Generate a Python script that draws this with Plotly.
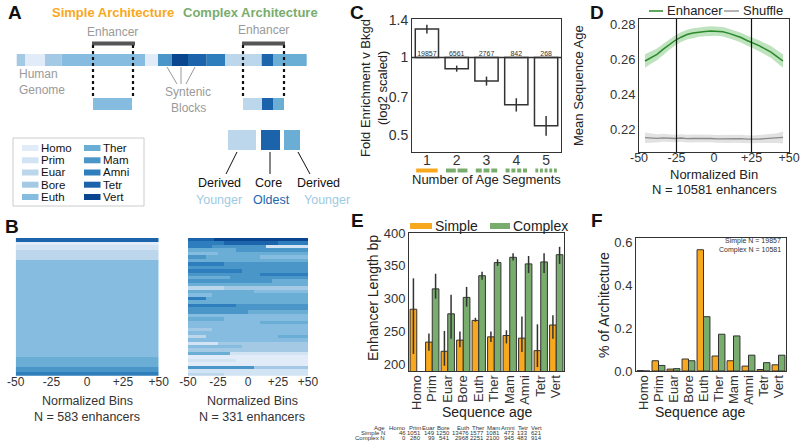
import numpy as np
import plotly.graph_objects as go

W, H = 800, 448
FONT = "Liberation Sans, Arial, sans-serif"
INK = "#222222"
GRAY_TXT = "#9a9a9a"
ORANGE = "#f8a81c"
GREEN = "#78ad6d"

# ---- sequence ages and their colours ----
ages = ["Homo", "Prim", "Euar", "Bore", "Euth", "Ther", "Mam", "Amni", "Tetr", "Vert"]
age_colors = ["#e1ecf8", "#d2e3f3", "#bcd6ec", "#a4c9e5", "#86bce0",
              "#6aaed6", "#4b96c9", "#2e7dbc", "#1b63aa", "#0a4690"]

# ---- panel A schematic (human genome strip) ----
genome_start = 16.7
genome_ages = [3, 0, 3, 4, 0, 6, 9, 8, 7, 2, 8, 5]
genome_widths = [8.3, 20, 16.7, 83.3, 13, 13.7, 16.3, 18.7, 18.3, 36.7, 11.3, 33.7]
complex_parts_ages = [2, 8, 5]
complex_parts_widths = [19, 11, 11]

# ---- panel B heatmaps ----
simple_band_ages = [8, 0, 1, 2, 4, 5, 6, 7]
simple_band_rows = [17, 11, 24, 40, 411, 42, 21, 17]
complex_rows = [
    [[8, 22], [9, 78]],
    [[7, 30], [8, 45], [7, 25]],
    [[7, 20], [6, 45], [1, 35]],
    [[5, 40], [6, 60]],
    [[4, 25], [5, 75]],
    [[6, 15], [5, 45], [4, 40]],
    [[5, 100]],
    [[7, 30], [6, 70]],
    [[6, 100]],
    [[7, 45], [6, 55]],
    [[6, 60], [7, 40]],
    [[5, 35], [6, 65]],
    [[6, 70], [5, 30]],
    [[5, 100]],
    [[2, 30], [3, 70]],
    [[5, 55], [4, 45]],
    [[4, 20], [5, 80]],
    [[7, 15], [5, 85]],
    [[5, 100]],
    [[7, 40], [6, 60]],
    [[6, 100]],
    [[6, 50], [5, 50]],
    [[4, 100]],
    [[5, 30], [4, 70]],
    [[4, 60], [5, 40]],
    [[4, 100]],
    [[3, 20], [4, 80]],
    [[4, 100]],
    [[2, 15], [4, 60], [5, 25]],
    [[4, 100]],
    [[1, 25], [3, 75]],
    [[4, 45], [3, 55]],
    [[3, 100]],
    [[5, 35], [1, 65]],
    [[0, 100]],
    [[1, 40], [0, 60]],
    [[0, 100]],
    [[6, 55], [3, 45]],
    [[1, 100]],
    [[2, 30], [1, 70]],
]

# ---- panel C ----
seg_counts = [1, 2, 3, 4, 5]
fold_enrichment = [1.29, 0.905, 0.81, 0.655, 0.543]
fe_err_hi = [0.05, 0.025, 0.033, 0.04, 0.05]
fe_err_lo = [0.05, 0.024, 0.032, 0.038, 0.046]
n_enh = [19857, 6561, 2767, 842, 268]

# ---- panel D ----
bins_d = [-46, -42, -38, -34, -30, -26, -22, -18, -14, -10, -6, -2,
          2, 6, 10, 14, 18, 22, 26, 30, 34, 38, 42, 46]
enhancer_age = [0.2590, 0.2609, 0.2628, 0.2656, 0.2683, 0.2707, 0.2726, 0.2741,
                0.2750, 0.2756, 0.2759, 0.2761, 0.2761, 0.2757, 0.2748, 0.2737,
                0.2724, 0.2707, 0.2693, 0.2678, 0.2659, 0.2641, 0.2615, 0.2590]
enhancer_ci = [0.0038, 0.0035, 0.0033, 0.0031, 0.0030, 0.0029, 0.0028, 0.0028,
               0.0027, 0.0027, 0.0027, 0.0027, 0.0027, 0.0027, 0.0027, 0.0028,
               0.0028, 0.0029, 0.0030, 0.0031, 0.0032, 0.0034, 0.0036, 0.0038]
shuffle_age = [0.2152, 0.2150, 0.2148, 0.2151, 0.2149, 0.2147, 0.2150, 0.2146,
               0.2148, 0.2149, 0.2146, 0.2147, 0.2145, 0.2146, 0.2143, 0.2145,
               0.2146, 0.2144, 0.2142, 0.2144, 0.2146, 0.2147, 0.2149, 0.2153]
shuffle_ci = [0.0030, 0.0026, 0.0024, 0.0023, 0.0022, 0.0022, 0.0022, 0.0022,
              0.0022, 0.0022, 0.0022, 0.0022, 0.0022, 0.0022, 0.0022, 0.0022,
              0.0022, 0.0022, 0.0022, 0.0023, 0.0024, 0.0025, 0.0028, 0.0034]

# ---- panel E ----
simple_len = [284, 234, 220, 237, 267, 242, 244, 240, 221, 260]
simple_hi = [331, 247, 251, 250, 271, 250, 252, 273, 261, 275]
simple_lo = [216, 221, 198, 226, 265, 234, 232, 219, 196, 239]
complex_len = [None, 315, 277, 302, 335, 355, 363, 353, 356, 367]
complex_hi = [None, 338, 306, 318, 341, 360, 369, 365, 369, 379]
complex_lo = [None, 300, 239, 288, 329, 350, 358, 339, 339, 353]
simple_n = [46, 1051, 149, 1250, 13476, 1577, 1081, 473, 133, 621]
complex_n = [0, 280, 99, 541, 2968, 2251, 2100, 945, 483, 914]

# ---- panel F ----
simple_frac = [0.002, 0.048, 0.009, 0.056, 0.567, 0.070, 0.048, 0.023, 0.007, 0.029]
complex_frac = [0.0, 0.026, 0.011, 0.048, 0.254, 0.172, 0.164, 0.074, 0.039, 0.074]


def px(x):
    return x / W


def py(y):
    return 1 - y / H


def xd(a, b):
    return [a / W, b / W]


def yd(top, bottom):
    return [1 - bottom / H, 1 - top / H]


shapes = []
annos = []


def rect(x0, y0, x1, y1, color, line_color=None, lw=0):
    shapes.append(dict(type="rect", xref="paper", yref="paper",
                       x0=px(x0), x1=px(x1), y0=py(y1), y1=py(y0),
                       fillcolor=color, line=dict(width=lw, color=line_color or color)))


def seg(x0, y0, x1, y1, color, lw=1, dash="solid"):
    shapes.append(dict(type="line", xref="paper", yref="paper",
                       x0=px(x0), x1=px(x1), y0=py(y0), y1=py(y1),
                       line=dict(color=color, width=lw, dash=dash)))


def text(x, y, s, size=13, color=INK, anchor="center", bold=False, angle=0, pad=1):
    annos.append(dict(xref="paper", yref="paper", x=px(x), y=py(y), text=s,
                      showarrow=False, xanchor=anchor, yanchor="middle",
                      textangle=angle, borderpad=pad,
                      font=dict(family=FONT, size=size, color=color,
                                weight="bold" if bold else "normal")))


# ===================== panel A =====================
text(15, 13, "A", 19, "#111", bold=True)
text(113, 12, "Simple Architecture", 13, ORANGE, bold=True)
text(251, 12, "Complex Architecture", 13, GREEN, bold=True)
text(112, 32, "Enhancer", 12, GRAY_TXT)
text(263, 30, "Enhancer", 12, GRAY_TXT)
rect(92, 41.5, 135, 45.5, "#555555")
rect(242, 41.5, 285, 45.5, "#555555")

x = genome_start
for a, w in zip(genome_ages, genome_widths):
    rect(x, 54, x + w, 66, age_colors[a])
    x += w

for xx in [93, 133, 243, 284]:
    seg(xx, 45, xx, 99, "#111", 2.2, "dot")

rect(93, 98, 132, 110, age_colors[4])
x = 243
for a, w in zip(complex_parts_ages, complex_parts_widths):
    rect(x, 98, x + w, 110, age_colors[a])
    x += w

text(17, 74, "Human", 12, GRAY_TXT, "left")
text(17, 90, "Genome", 12, GRAY_TXT, "left")
seg(167, 67, 177, 84, "#999", 1)
seg(181, 67, 181, 84, "#999", 1)
seg(195, 67, 186, 84, "#999", 1)
text(188, 92, "Syntenic", 12, GRAY_TXT)
text(188, 108, "Blocks", 12, GRAY_TXT)

# legend box of ages
rect(13, 138, 144, 206, "rgba(0,0,0,0)", "#cccccc", 1)
row_y = [148, 160.3, 172.5, 184.7, 197]
for i, name in enumerate(ages):
    col, r = divmod(i, 5)
    sx = 22 if col == 0 else 84
    rect(sx, row_y[r] - 3, sx + 16.5, row_y[r] + 3, age_colors[i])
    text(sx + 18, row_y[r], name, 11.5, "#111", "left", pad=0)

# core / derived squares
sq_x = [(228, 256), (261, 280), (284, 300)]
for (a0, a1), a in zip(sq_x, complex_parts_ages):
    rect(a0, 130, a1, 150, age_colors[a])
seg(237, 152, 226, 174, "#111", 1)
seg(270, 152, 270, 174, "#111", 1)
seg(298, 152, 310, 174, "#111", 1)
text(219, 183, "Derived", 12.5, "#111")
text(268, 183, "Core", 12.5, "#111")
text(318, 183, "Derived", 12.5, "#111")
text(219, 200, "Younger", 12.5, "#9ecae1")
text(271, 200, "Oldest", 12.5, "#2166ac")
text(327, 200, "Younger", 12.5, "#9ecae1")

# ===================== panel B =====================
text(12, 226, "B", 19, "#111", bold=True)
scale = []
for i, c in enumerate(age_colors):
    scale.append([i / 10, c])
    scale.append([(i + 1) / 10, c])

bin_x = np.arange(-49.5, 50, 1.0)
simple_col = np.repeat(simple_band_ages, simple_band_rows)
z_simple = np.tile(simple_col[:, None], (1, len(bin_x)))
z_complex = []
for row in complex_rows:
    vals = []
    for a, n in row:
        vals += [a] * n
    z_complex.append(vals)

fig = go.Figure()
fig.add_trace(go.Heatmap(x=bin_x, y=np.arange(len(simple_col)), z=z_simple,
                         colorscale=scale, zmin=-0.5, zmax=9.5, showscale=False,
                         hoverinfo="skip", xaxis="x", yaxis="y"))
fig.add_trace(go.Heatmap(x=bin_x, y=np.arange(len(complex_rows)), z=z_complex,
                         colorscale=scale, zmin=-0.5, zmax=9.5, showscale=False,
                         hoverinfo="skip", xaxis="x2", yaxis="y2"))
text(87, 401, "Normalized Bins", 12.5, "#333")
text(87, 417, "N = 583 enhancers", 12.5, "#333")
text(252, 401, "Normalized Bins", 12.5, "#333")
text(252, 417, "N = 331 enhancers", 12.5, "#333")

# ===================== panel C =====================
text(357, 12, "C", 19, "#111", bold=True)
fig.add_trace(go.Bar(x=seg_counts, y=[v - 1 for v in fold_enrichment], base=1,
                     width=0.78, marker=dict(color="white", line=dict(color="#333", width=1.5)),
                     error_y=dict(type="data", array=fe_err_hi, arrayminus=fe_err_lo,
                                  color="#333", thickness=1.5, width=0),
                     xaxis="x3", yaxis="y3"))
fig.add_trace(go.Scatter(x=[0.5, 5.5], y=[1, 1], mode="lines",
                         line=dict(color="#333", width=1.3),
                         hoverinfo="skip", xaxis="x3", yaxis="y3"))
fig.add_trace(go.Scatter(x=seg_counts, y=[1] * 5, mode="text",
                         text=[str(n) for n in n_enh], textposition="top center",
                         textfont=dict(family=FONT, size=7, color="#333"),
                         hoverinfo="skip", xaxis="x3", yaxis="y3"))
for c, n in zip(seg_counts, seg_counts):
    total, gap = 0.72, 0.06
    w = (total - gap * (n - 1)) / n
    for k in range(n):
        x0 = c - total / 2 + k * (w + gap)
        shapes.append(dict(type="rect", xref="x3", yref="paper",
                           x0=x0, x1=x0 + w, y0=py(172.5), y1=py(168.5),
                           fillcolor=ORANGE if n == 1 else GREEN, line=dict(width=0)))
text(486, 179, "Number of Age Segments", 13, "#222")
text(366, 88, "Fold Enrichment v Bkgd", 13, "#222", angle=-90)
text(383, 88, "(log2 scaled)", 13, "#222", angle=-90)

# ===================== panel D =====================
text(597, 12, "D", 19, "#111", bold=True)
upper = [m + c for m, c in zip(enhancer_age, enhancer_ci)]
lower = [m - c for m, c in zip(enhancer_age, enhancer_ci)]
fig.add_trace(go.Scatter(x=bins_d + bins_d[::-1], y=upper + lower[::-1], fill="toself",
                         fillcolor="rgba(70,175,70,0.35)", line=dict(width=0),
                         hoverinfo="skip", xaxis="x4", yaxis="y4"))
upper = [m + c for m, c in zip(shuffle_age, shuffle_ci)]
lower = [m - c for m, c in zip(shuffle_age, shuffle_ci)]
fig.add_trace(go.Scatter(x=bins_d + bins_d[::-1], y=upper + lower[::-1], fill="toself",
                         fillcolor="rgba(160,160,160,0.3)", line=dict(width=0),
                         hoverinfo="skip", xaxis="x4", yaxis="y4"))
fig.add_trace(go.Scatter(x=bins_d, y=enhancer_age, mode="lines", name="Enhancer",
                         line=dict(color="#2a8a2a", width=1.5), xaxis="x4", yaxis="y4"))
fig.add_trace(go.Scatter(x=bins_d, y=shuffle_age, mode="lines", name="Shuffle",
                         line=dict(color="#8a8a8a", width=1.3), xaxis="x4", yaxis="y4"))
for v in [-25, 25]:
    shapes.append(dict(type="line", xref="x4", yref="y4 domain", x0=v, x1=v, y0=0, y1=1,
                       line=dict(color="#111", width=1.2)))
# legend drawn by hand
seg(649, 11, 663, 11, "#2a8a2a", 1.5)
text(665, 11, "Enhancer", 13, "#222", "left")
seg(724, 11, 739, 11, "#8a8a8a", 1.3)
text(741, 11, "Shuffle", 13, "#222", "left")
text(578, 86, "Mean Sequence Age", 13, "#222", angle=-90)
text(714, 174, "Normalized Bin", 13, "#222")
text(714, 189, "N = 10581 enhancers", 13, "#222")

# ===================== panel E =====================
text(357, 220, "E", 19, "#111", bold=True)
s_up = [h - m for h, m in zip(simple_hi, simple_len)]
s_dn = [m - l for m, l in zip(simple_len, simple_lo)]
c_up = [(h - m) if m is not None else 0 for h, m in zip(complex_hi, complex_len)]
c_dn = [(m - l) if m is not None else 0 for m, l in zip(complex_len, complex_lo)]
fig.add_trace(go.Bar(x=ages, y=simple_len, name="Simple", offsetgroup="s",
                     marker=dict(color=ORANGE, line=dict(color="#333", width=1)),
                     error_y=dict(type="data", array=s_up, arrayminus=s_dn,
                                  color="#333", thickness=1.5, width=0),
                     xaxis="x5", yaxis="y5"))
fig.add_trace(go.Bar(x=ages, y=complex_len, name="Complex", offsetgroup="c",
                     marker=dict(color=GREEN, line=dict(color="#333", width=1)),
                     error_y=dict(type="data", array=c_up, arrayminus=c_dn,
                                  color="#333", thickness=1.5, width=0),
                     xaxis="x5", yaxis="y5"))
rect(410, 223, 432, 229, ORANGE)
text(433, 226, "Simple", 14, "#222", "left")
rect(490, 223, 510, 229, GREEN)
text(511, 226, "Complex", 14, "#222", "left")
text(373, 298, "Enhancer Length bp", 14, "#222", angle=-90)
text(487, 412, "Sequence age", 14, "#222")

# small count table
col_right = [407, 422, 436, 451, 470, 485, 501, 516, 529, 543]
tab_rows = [("Age", ages, 427.5), ("Simple N", simple_n, 432.8), ("Complex N", complex_n, 438)]
for label, vals, yy in tab_rows:
    text(386, yy, label, 6, "#333", "right", pad=0)
    for xr, v in zip(col_right, vals):
        text(xr, yy, str(v), 6, "#333", "right", pad=0)

# ===================== panel F =====================
text(597, 220, "F", 19, "#111", bold=True)
fig.add_trace(go.Bar(x=ages, y=simple_frac, offsetgroup="s",
                     marker=dict(color=ORANGE, line=dict(color="#333", width=1)),
                     xaxis="x6", yaxis="y6"))
fig.add_trace(go.Bar(x=ages, y=complex_frac, offsetgroup="c",
                     marker=dict(color=GREEN, line=dict(color="#333", width=1)),
                     xaxis="x6", yaxis="y6"))
text(783, 241, "Simple N = 19857", 7, "#333", "right")
text(783, 250, "Complex N = 10581", 7, "#333", "right")
text(604, 305, "% of Architecture", 14, "#222", angle=-90)
text(700, 412, "Sequence age", 14, "#222")

# ===================== axes =====================
tickf = dict(family=FONT, size=13, color="#333")
frame = dict(showline=True, mirror=True, linecolor="#333", linewidth=1,
             showgrid=False, zeroline=False, ticks="", tickfont=tickf, automargin=False,
             ticklabeloverflow="allow")
heat_x = dict(range=[-50, 50], tickvals=[-50, -25, 0, 25, 50],
              ticktext=["-50", "-25", "0", "+25", "+50"], showgrid=False,
              zeroline=False, ticks="", showline=False, automargin=False,
              ticklabelstandoff=-3, ticklabeloverflow="allow",
              tickfont=dict(family=FONT, size=12, color="#333"))
heat_y = dict(autorange="reversed", showticklabels=False, showgrid=False,
              zeroline=False, showline=False, ticks="", automargin=False)
cat_x = dict(frame, tickangle=-90, tickmode="array", tickvals=ages, ticktext=ages,
             ticklabelstandoff=-2)

fig.update_layout(
    template="none",
    width=W, height=H, autosize=False,
    margin=dict(l=0, r=0, t=0, b=0, pad=0, autoexpand=False),
    showlegend=False,
    paper_bgcolor="white", plot_bgcolor="white",
    font=dict(family=FONT, color="#222"),
    barmode="group", bargap=0.14, bargroupgap=0.0,
    xaxis=dict(heat_x, domain=xd(15.7, 158.7), anchor="y"),
    yaxis=dict(heat_y, domain=yd(238, 375.7), anchor="x"),
    xaxis2=dict(heat_x, domain=xd(188, 308), anchor="y2"),
    yaxis2=dict(heat_y, domain=yd(238, 375.7), anchor="x2"),
    xaxis3=dict(frame, domain=xd(412, 561), anchor="y3", range=[0.5, 5.5],
                tickvals=seg_counts, ticklabelstandoff=-5,
                tickfont=dict(family=FONT, size=14, color="#333")),
    yaxis3=dict(frame, domain=yd(19, 152), anchor="x3", type="log",
                range=[np.log10(0.43), np.log10(1.41)],
                tickvals=[0.5, 0.7, 1, 1.4], ticktext=["0.5", "0.7", "1", "1.4"],
                tickfont=dict(family=FONT, size=14, color="#333")),
    xaxis4=dict(frame, domain=xd(639, 789), anchor="y4", range=[-50, 50],
                tickvals=[-50, -25, 0, 25, 50], ticktext=["-50", "-25", "0", "+25", "+50"],
                ticklabelstandoff=-6, tickfont=dict(family=FONT, size=12.5, color="#333")),
    yaxis4=dict(frame, domain=yd(19, 152), anchor="x4", range=[0.207, 0.283],
                tickvals=[0.22, 0.24, 0.26, 0.28], tickformat=".2f"),
    xaxis5=dict(cat_x, domain=xd(409, 564), anchor="y5"),
    yaxis5=dict(frame, domain=yd(233, 371), anchor="x5", range=[190, 400],
                tickvals=[200, 250, 300, 350, 400]),
    xaxis6=dict(cat_x, domain=xd(636, 786), anchor="y6"),
    yaxis6=dict(frame, domain=yd(238, 371), anchor="x6", range=[0, 0.622],
                tickvals=[0, 0.2, 0.4, 0.6], tickformat=".1f"),
    shapes=shapes,
    annotations=annos,
)

# the page body has a default 8px margin; drop it so the figure sits at the top-left
fig.write_html("out.html", config={"displayModeBar": False},
               post_script="document.body.style.margin='0px';document.body.style.overflow='hidden';")
